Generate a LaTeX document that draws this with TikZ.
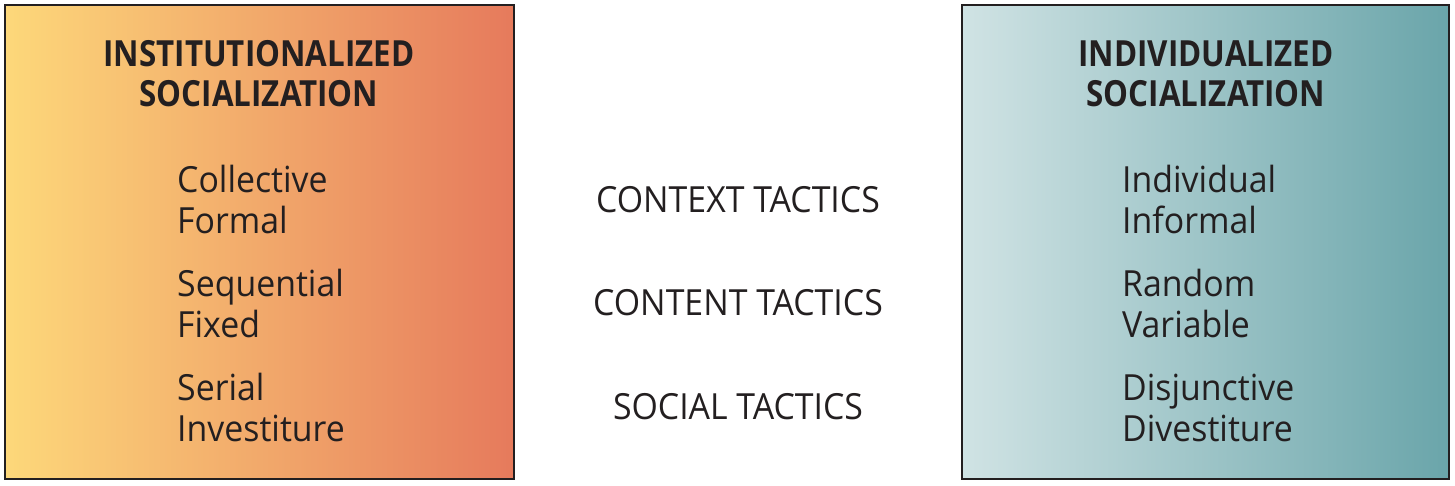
\documentclass[tikz,border=0pt]{standalone}
\usepackage{fontspec}
\setmainfont[FakeStretch=0.94]{Open Sans}
\newfontfamily\headfont[FakeStretch=0.87]{Open Sans}
\usetikzlibrary{positioning}
\definecolor{warmleft}{HTML}{FDD87A}
\definecolor{warmright}{HTML}{E67A5C}
\definecolor{coolleft}{HTML}{D0E3E4}
\definecolor{coolright}{HTML}{6AA5AA}
\definecolor{boxline}{HTML}{231F20}
\definecolor{inkdark}{HTML}{231F20}

\begin{document}
\begin{tikzpicture}[x=1pt,y=-1pt,
    panel/.style={draw=boxline, line width=1.6pt},
    heading/.style={font=\fontsize{36}{40}\selectfont\headfont\bfseries, align=center, text=inkdark, inner sep=0pt, anchor=base},
    tactic/.style={font=\fontsize{36}{41}\selectfont, align=left, text=inkdark, inner sep=0pt, anchor=base west},
    dimension/.style={font=\fontsize{36}{41}\selectfont, text=inkdark, inner sep=0pt, anchor=base}]

    \useasboundingbox (0,0) rectangle (1455,485);

    % Panels
    \draw[panel, left color=warmleft, right color=warmright] (5,5) rectangle (514,479);
    \draw[panel, left color=coolleft, right color=coolright] (962,5) rectangle (1449,479);

    % Headings
    \node[heading] (inst) at (259,106) {INSTITUTIONALIZED\\SOCIALIZATION};
    \node[heading] (indiv) at (1206,106) {INDIVIDUALIZED\\SOCIALIZATION};

    % Left tactics
    \node[tactic] (collective) at (177,233) {Collective\\Formal};
    \node[tactic] (sequential) at (177,337) {Sequential\\Fixed};
    \node[tactic] (serial) at (177,441) {Serial\\Investiture};

    % Dimensions
    \node[dimension] (context) at (738,212) {CONTEXT TACTICS};
    \node[dimension] (content) at (738,315) {CONTENT TACTICS};
    \node[dimension] (social) at (738,419) {SOCIAL TACTICS};

    % Right tactics
    \node[tactic] (individual) at (1122,233) {Individual\\Informal};
    \node[tactic] (random) at (1122,337) {Random\\Variable};
    \node[tactic] (disjunctive) at (1122,441) {Disjunctive\\Divestiture};

\end{tikzpicture}
\end{document}
